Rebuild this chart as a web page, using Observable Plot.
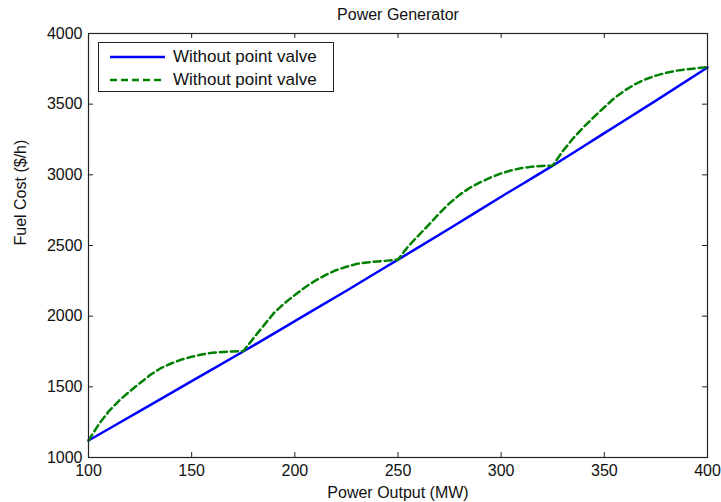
<!DOCTYPE html>
<html>
<head>
<meta charset="utf-8">
<script src="https://cdn.jsdelivr.net/npm/d3@7"></script>
<script src="https://cdn.jsdelivr.net/npm/@observablehq/plot@0.6"></script>
<style>
  html, body { margin: 0; padding: 0; background: white; }
  #wrap { position: relative; width: 721px; height: 502px; font-family: "Liberation Sans", Arial, sans-serif; }
  #legend { position: absolute; left: 98px; top: 42px; width: 236px; height: 50px; border: 1px solid #222; background: white; box-sizing: border-box; }
  #legend .row { position: absolute; left: 0; height: 20px; display: flex; align-items: center; }
  #legend svg { margin-left: 11px; }
  #legend span { margin-left: 8px; font-size: 17px; color: #111; white-space: nowrap; }
</style>
</head>
<body>
<div id="wrap"></div>
<script>
// ---- data ----
const TITLE = "Power Generator";
const X_LABEL = "Power Output (MW)";
const Y_LABEL = "Fuel Cost ($/h)";
const SERIES_NAMES = ["Without point valve", "Without point valve"];
const X_TICKS = [100, 150, 200, 250, 300, 350, 400];
const Y_TICKS = [1000, 1500, 2000, 2500, 3000, 3500, 4000];

// smooth cost curve (solid blue)
const BLUE_P = [100, 125, 150, 175, 200, 225, 250, 275, 300, 325, 350, 375, 400];
const BLUE_COST = [1120, 1330, 1540, 1750, 1965, 2180, 2400, 2620, 2845, 3065, 3295, 3525, 3760];

// valve-point curve (dashed green)
const GREEN_P = [100, 105, 110, 115, 120, 125, 130, 135, 140, 145, 150, 155, 160, 165, 170, 175,
                 180, 185, 190, 195, 200, 205, 210, 215, 220, 225, 230, 235, 240, 245, 250,
                 255, 260, 265, 270, 275, 280, 285, 290, 295, 300, 305, 310, 315, 320, 325,
                 330, 335, 340, 345, 350, 355, 360, 365, 370, 375, 380, 385, 390, 395, 400];
const GREEN_COST = [1120, 1235, 1330, 1405, 1468, 1527, 1585, 1632, 1665, 1693, 1713, 1729, 1741, 1747, 1750, 1752,
                    1845, 1935, 2025, 2092, 2150, 2205, 2252, 2292, 2325, 2350, 2370, 2380, 2387, 2393, 2400,
                    2495, 2572, 2648, 2727, 2800, 2860, 2910, 2948, 2982, 3010, 3032, 3048, 3058, 3063, 3066,
                    3170, 3260, 3338, 3410, 3478, 3545, 3598, 3642, 3676, 3702, 3722, 3737, 3747, 3755, 3762];

const BLUE = "#0000ff";
const GREEN = "#008000";

const blueData = BLUE_P.map((p, i) => ({p, c: BLUE_COST[i]}));
const greenData = GREEN_P.map((p, i) => ({p, c: GREEN_COST[i]}));

const W = 721, H = 502, MT = 33, MB = 45, ML = 88, MR = 14;
const FH = H - MT - MB, FW = W - ML - MR, TL = 5;

const chart = Plot.plot({
  width: W, height: H,
  marginTop: MT, marginBottom: MB, marginLeft: ML, marginRight: MR,
  x: {domain: [100, 400]},
  y: {domain: [1000, 4000]},
  style: {fontFamily: "'Liberation Sans', Arial, sans-serif", fontSize: "16px", background: "white", color: "#111"},
  marks: [
    Plot.line(blueData, {x: "p", y: "c", stroke: BLUE, strokeWidth: 2.5, curve: "monotone-x"}),
    Plot.line(greenData, {x: "p", y: "c", stroke: GREEN, strokeWidth: 2.5, strokeDasharray: "7,4"}),
    Plot.frame({stroke: "#222", strokeWidth: 1.2}),
    Plot.tickX(X_TICKS, {x: d => d, insetTop: FH - TL, stroke: "#222"}),
    Plot.tickX(X_TICKS, {x: d => d, insetBottom: FH - TL, stroke: "#222"}),
    Plot.tickY(Y_TICKS, {y: d => d, insetRight: FW - TL, stroke: "#222"}),
    Plot.tickY(Y_TICKS, {y: d => d, insetLeft: FW - TL, stroke: "#222"}),
    Plot.axisX(X_TICKS, {tickSize: 0, tickPadding: 7, fontSize: 16, label: null, tickFormat: d3.format("d")}),
    Plot.axisY(Y_TICKS, {tickSize: 0, tickPadding: 6, fontSize: 16, label: null, tickFormat: d3.format("d")}),
    Plot.text([TITLE], {frameAnchor: "top", lineAnchor: "middle", dy: -19, fontSize: 16}),
    Plot.text([X_LABEL], {frameAnchor: "bottom", lineAnchor: "middle", dy: 35, fontSize: 16}),
    Plot.text([Y_LABEL], {frameAnchor: "left", lineAnchor: "middle", dx: -68, rotate: -90, fontSize: 16})
  ]
});

const wrap = document.getElementById("wrap");
wrap.appendChild(chart);

// legend overlay
const legend = document.createElement("div");
legend.id = "legend";
const colors = [BLUE, GREEN];
const dashes = [null, "7,4"];
SERIES_NAMES.forEach((name, i) => {
  const row = document.createElement("div");
  row.className = "row";
  row.style.top = (i === 0 ? 4 : 27) + "px";
  const svg = d3.create("svg").attr("width", 55).attr("height", 10);
  svg.append("line").attr("x1", 0).attr("x2", 55).attr("y1", 5).attr("y2", 5)
    .attr("stroke", colors[i]).attr("stroke-width", 2.5)
    .attr("stroke-dasharray", dashes[i]);
  row.appendChild(svg.node());
  const span = document.createElement("span");
  span.textContent = name;
  row.appendChild(span);
  legend.appendChild(row);
});
wrap.appendChild(legend);
</script>
</body>
</html>
